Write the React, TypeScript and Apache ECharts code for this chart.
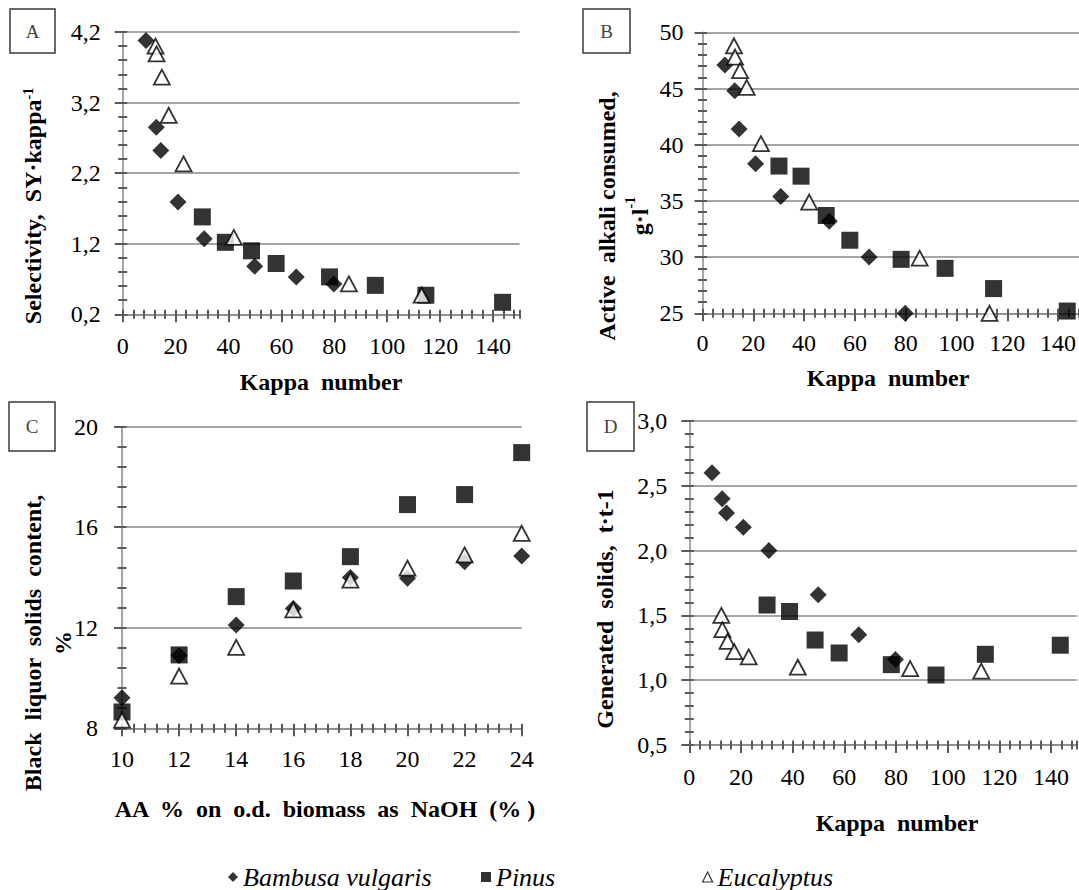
import React, { useEffect, useRef } from "react";
import * as echarts from "echarts";

// ---------- data ----------
const speciesNames = ["Bambusa vulgaris", "Pinus", "Eucalyptus"];

const bambusaKappa = [8.8, 12.7, 14.4, 20.9, 30.8, 49.9, 65.6, 79.8];
const pinusKappa = [30.1, 38.8, 48.7, 58, 78.2, 95.5, 114.6, 143.6];
const eucalyptusKappa = [12.4, 12.8, 14.8, 17.4, 23, 42, 85.5, 113];

const selectivityBambusa = [4.08, 2.85, 2.52, 1.79, 1.27, 0.88, 0.73, 0.63];
const selectivityPinus = [1.58, 1.22, 1.1, 0.92, 0.73, 0.61, 0.47, 0.37];
const selectivityEucalyptus = [4.0, 3.89, 3.56, 3.02, 2.33, 1.29, 0.63, 0.47];

const alkaliBambusa = [47.1, 44.8, 41.4, 38.3, 35.4, 33.2, 30.0, 25.0];
const alkaliPinus = [38.1, 37.2, 33.7, 31.5, 29.8, 29.0, 27.2, 25.2];
const alkaliEucalyptus = [48.8, 47.8, 46.6, 45.1, 40.1, 34.9, 29.9, 25.0];

const aaCharge = [10, 12, 14, 16, 18, 20, 22, 24];
const solidsBambusa = [9.22, 10.9, 12.11, 12.77, 14.0, 13.97, 14.63, 14.86];
const solidsPinus = [8.65, 10.92, 13.24, 13.86, 14.83, 16.9, 17.3, 18.97];
const solidsEucalyptus = [8.33, 10.08, 11.22, 12.71, 13.9, 14.37, 14.9, 15.76];

const generatedBambusa = [2.6, 2.4, 2.29, 2.18, 2.0, 1.66, 1.35, 1.16];
const generatedPinus = [1.58, 1.53, 1.31, 1.21, 1.12, 1.04, 1.2, 1.27];
const generatedEucalyptus = [1.5, 1.39, 1.3, 1.22, 1.18, 1.1, 1.09, 1.07];

// tick labels
const kappaTicks = [0, 20, 40, 60, 80, 100, 120, 140];
const aaTicks = [10, 12, 14, 16, 18, 20, 22, 24];
const selectivityTicks = [0.2, 1.2, 2.2, 3.2, 4.2];
const alkaliTicks = [25, 30, 35, 40, 45, 50];
const solidsTicks = [8, 12, 16, 20];
const generatedTicks = [0.5, 1.0, 1.5, 2.0, 2.5, 3.0];

// ---------- style ----------
const FONT = "Liberation Serif";
const GREY = "#898989";
const TICK = "#5a5a5a";

const comma = (v: number) => v.toFixed(1).replace(".", ",");
const plain = (v: number) => String(v);

type AxisSpec = {
  min: number;
  max: number;
  step: number;
  ticks: number[];
  fmt: (v: number) => string;
  margin: number;
};

function buildAxes(dim: "x" | "y", gi: number, a: AxisSpec) {
  const pos = dim === "x" ? "bottom" : "left";
  const main = {
    type: "value",
    gridIndex: gi,
    position: pos,
    min: a.min,
    max: a.max,
    interval: a.step,
    axisLine: { show: true, onZero: false, lineStyle: { color: GREY, width: 1.5 } },
    axisTick: {
      show: true,
      customValues: a.ticks,
      length: 8,
      lineStyle: { color: TICK, width: 2 },
    },
    axisLabel: {
      show: true,
      customValues: a.ticks,
      margin: a.margin,
      color: "#000",
      fontFamily: FONT,
      fontSize: 24,
      formatter: (v: number) => a.fmt(v),
    },
    splitLine: { show: dim === "y", lineStyle: { color: GREY, width: 1.5 } },
    minorTick: { show: false },
  };
  // overlay axis carrying the small ticks that cross the axis line
  const minor = {
    type: "value",
    gridIndex: gi,
    position: pos,
    offset: -4.5,
    min: a.min,
    max: a.max,
    interval: a.step,
    axisLine: { show: true, onZero: false, lineStyle: { color: GREY, width: 1.5, opacity: 0 } },
    axisTick: { show: true, length: 9, lineStyle: { color: TICK, width: 2, opacity: 1 } },
    axisLabel: { show: false },
    splitLine: { show: false },
  };
  return [main, minor];
}

const grids = [
  { left: 122.7, top: 32, width: 396.8, height: 282.3 },
  { left: 702.5, top: 32.3, width: 381, height: 281 },
  { left: 122, top: 426.7, width: 399.7, height: 301.6 },
  { left: 689.3, top: 421, width: 387.5, height: 324 },
];

const xSpecs: AxisSpec[] = [
  { min: 0, max: 150, step: 4, ticks: kappaTicks, fmt: plain, margin: 20 },
  { min: 0, max: 150, step: 4, ticks: kappaTicks, fmt: plain, margin: 18 },
  { min: 10, max: 24, step: 0.4, ticks: aaTicks, fmt: plain, margin: 19 },
  { min: 0, max: 150, step: 4, ticks: kappaTicks, fmt: plain, margin: 20 },
];
const ySpecs: AxisSpec[] = [
  { min: 0.2, max: 4.2, step: 0.2, ticks: selectivityTicks, fmt: comma, margin: 22 },
  { min: 25, max: 50, step: 1, ticks: alkaliTicks, fmt: plain, margin: 19 },
  { min: 8, max: 20, step: 0.8, ticks: solidsTicks, fmt: plain, margin: 24 },
  { min: 0.5, max: 3.0, step: 0.1, ticks: generatedTicks, fmt: comma, margin: 22 },
];

const panelData: [number[], number[]][][] = [
  [
    [bambusaKappa, selectivityBambusa],
    [pinusKappa, selectivityPinus],
    [eucalyptusKappa, selectivityEucalyptus],
  ],
  [
    [bambusaKappa, alkaliBambusa],
    [pinusKappa, alkaliPinus],
    [eucalyptusKappa, alkaliEucalyptus],
  ],
  [
    [aaCharge, solidsBambusa],
    [aaCharge, solidsPinus],
    [aaCharge, solidsEucalyptus],
  ],
  [
    [bambusaKappa, generatedBambusa],
    [pinusKappa, generatedPinus],
    [eucalyptusKappa, generatedEucalyptus],
  ],
];

const markerStyles = [
  { symbol: "diamond", symbolSize: 17, itemStyle: { color: "#000" } },
  { symbol: "rect", symbolSize: 17, itemStyle: { color: "#000" } },
  {
    symbol: "triangle",
    symbolSize: [16, 15],
    itemStyle: { color: "#fff", borderColor: "#000", borderWidth: 1.8 },
  },
];

function buildOption() {
  const xAxis: any[] = [];
  const yAxis: any[] = [];
  grids.forEach((_, gi) => {
    xAxis.push(...buildAxes("x", gi, xSpecs[gi]));
    yAxis.push(...buildAxes("y", gi, ySpecs[gi]));
  });

  const series: any[] = [];
  panelData.forEach((panel, gi) => {
    panel.forEach(([xs, ys], si) => {
      series.push({
        type: "scatter",
        name: speciesNames[si],
        xAxisIndex: gi * 2,
        yAxisIndex: gi * 2,
        data: xs.map((x, i) => [x, ys[i]]),
        clip: false,
        silent: true,
        ...markerStyles[si],
      });
    });
  });

  const legendCommon = {
    orient: "horizontal",
    padding: 0,
    itemWidth: 10,
    itemHeight: 10,
    itemGap: 0,
    selectedMode: false,
    itemStyle: { borderWidth: 1.2 },
    textStyle: { fontFamily: FONT, fontSize: 26, fontStyle: "italic", color: "#000" },
  };
  const legend = [
    { ...legendCommon, data: [speciesNames[0]], left: 228, top: 864 },
    { ...legendCommon, data: [speciesNames[1]], left: 481, top: 864 },
    { ...legendCommon, data: [speciesNames[2]], left: 702, top: 864 },
  ];

  const titleStyle = {
    fontFamily: FONT,
    fontSize: 24,
    fontWeight: "bold",
    fill: "#000",
    align: "center",
    verticalAlign: "middle",
  };
  const sup = {
    fontFamily: FONT,
    fontSize: 14,
    fontWeight: "bold",
    fill: "#000",
    verticalAlign: "top",
    lineHeight: 16,
  };
  const box = (x: number, y: number, w: number, h: number, letter: string) => ({
    type: "group",
    children: [
      {
        type: "rect",
        x,
        y,
        shape: { width: w, height: h },
        style: { fill: "#fff", stroke: "#3a3a3a", lineWidth: 1.5 },
      },
      {
        type: "text",
        x: x + w / 2,
        y: y + h / 2,
        style: {
          text: letter,
          fontFamily: FONT,
          fontSize: 19,
          fill: "#444",
          align: "center",
          verticalAlign: "middle",
        },
      },
    ],
  });

  const graphic = [
    box(10, 9, 45, 44, "A"),
    box(583, 9, 47, 44, "B"),
    box(9, 402, 46, 49, "C"),
    box(587, 402, 47, 49, "D"),
    {
      type: "text",
      x: 33,
      y: 206,
      rotation: Math.PI / 2,
      style: { ...titleStyle, text: "Selectivity,  SY·kappa{sup|-1}", rich: { sup } },
    },
    {
      type: "text",
      x: 623,
      y: 216,
      rotation: Math.PI / 2,
      style: {
        ...titleStyle,
        lineHeight: 33,
        text: "Active  alkali consumed,\ng·l{sup|-1}",
        rich: { sup },
      },
    },
    {
      type: "text",
      x: 48,
      y: 643,
      rotation: Math.PI / 2,
      style: { ...titleStyle, lineHeight: 30, text: "Black  liquor  solids  content,\n%" },
    },
    {
      type: "text",
      x: 605,
      y: 609,
      rotation: Math.PI / 2,
      style: { ...titleStyle, text: "Generated  solids,  t·t-1" },
    },
    { type: "text", x: 321, y: 382, style: { ...titleStyle, text: "Kappa  number" } },
    { type: "text", x: 888, y: 378, style: { ...titleStyle, text: "Kappa  number" } },
    {
      type: "text",
      x: 325,
      y: 809,
      style: { ...titleStyle, text: "AA  %  on  o.d.  biomass  as  NaOH  (% )" },
    },
    { type: "text", x: 897, y: 823, style: { ...titleStyle, text: "Kappa  number" } },
  ];

  return {
    animation: false,
    backgroundColor: "#fff",
    grid: grids.map((g) => ({ ...g, containLabel: false, outerBoundsMode: "none" })),
    xAxis,
    yAxis,
    series,
    legend,
    graphic,
  };
}

export default function App() {
  const ref = useRef<HTMLDivElement>(null);
  useEffect(() => {
    if (!ref.current) return;
    const chart = echarts.init(ref.current, null, { renderer: "svg" });
    chart.setOption(buildOption() as any);
    return () => chart.dispose();
  }, []);
  return (
    <div
      ref={ref}
      style={{ position: "fixed", left: 0, top: 0, width: 1079, height: 890, background: "#fff" }}
    />
  );
}
